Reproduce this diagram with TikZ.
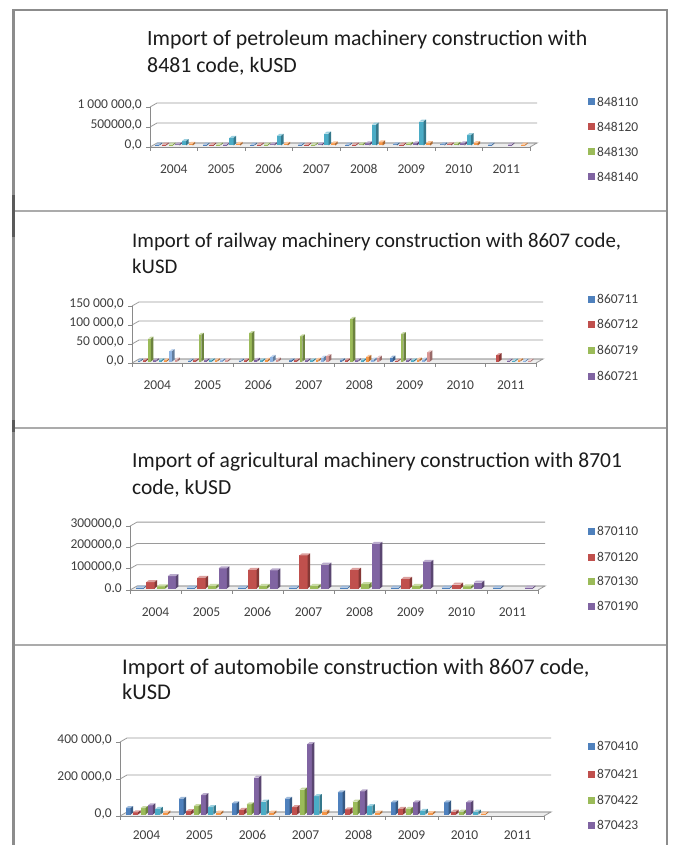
\documentclass[tikz,border=0pt]{standalone}
\usepackage{fontspec}
\setmainfont{Carlito}
\definecolor{sA}{HTML}{4F81BD}
\definecolor{sB}{HTML}{C0504D}
\definecolor{sC}{HTML}{9BBB59}
\definecolor{sD}{HTML}{8064A2}
\definecolor{sE}{HTML}{4BACC6}
\definecolor{sF}{HTML}{F79646}
\definecolor{sG}{HTML}{8EB4E3}
\definecolor{sH}{HTML}{D99694}
\definecolor{frgray}{HTML}{8C8C8C}
\definecolor{frdark}{HTML}{5A5A5A}
\definecolor{sepgray}{HTML}{ABABAB}
\definecolor{gridcol}{HTML}{9A9A9A}
\definecolor{axcol}{HTML}{8A8A8A}
\definecolor{floorcol}{HTML}{EDEDED}
\definecolor{labcol}{HTML}{404040}
\definecolor{ttlcol}{HTML}{1C1C1C}
\tikzset{
  frameline/.style={draw=frgray, line width=2.2pt},
  sepline/.style={draw=sepgray, line width=1.3pt},
  ttl/.style={anchor=west, inner sep=0pt, text=ttlcol},
  ylab/.style={anchor=east, inner sep=0pt, font=\fontsize{13.5}{15}\selectfont, text=labcol},
  xlab/.style={anchor=center, inner sep=0pt, font=\fontsize{13.5}{15}\selectfont, text=labcol},
  leglab/.style={anchor=west, inner sep=0pt, font=\fontsize{13.5}{15}\selectfont, text=labcol},
  gridln/.style={draw=gridcol, line width=0.8pt},
  axisln/.style={draw=axcol, line width=0.8pt},
}
\newcommand\bdx{2.5}
\newcommand\bdy{2}
\newcommand\panelbody{%
  \pgfmathsetmacro\xe{\xo+8*\wc}%
  % floor
  \fill[floorcol] (\xo,\yo) -- (\xe,\yo) -- (\xe+7,\yo-4) -- (\xo+7,\yo-4) -- cycle;
  \draw[gridln] (\xo+7,\yo-4) -- (\xe+7,\yo-4) -- (\xe,\yo);
  % gridlines and y labels
  \foreach \gv/\gl [count=\gi] in \gridlist {
    \pgfmathsetmacro\gy{\yo-\gv*\sc}
    \draw[gridln] (\xo,\gy) -- (\xo+7,\gy-4) -- (\xe+7,\gy-4);
    \draw[axisln] (\xo-4,\gy) -- (\xo,\gy);
    \node[ylab] (\pn y\gi) at (\xo-8,\gy-2) {\gl};
  }
  \draw[axisln] (\xo,\yo) -- (\xo,\yo-\topv*\sc);
  \draw[axisln] (\xo,\yo) -- (\xe,\yo);
  \foreach \k in {0,...,8} { \draw[axisln] (\xo+\k*\wc,\yo) -- (\xo+\k*\wc,\yo+4); }
  % years
  \foreach \yr [count=\ci] in {2004,2005,2006,2007,2008,2009,2010,2011} {
    \node[xlab] (\pn x\ci) at (\xo+\ci*\wc-0.5*\wc,\yo+\yoff) {\yr};
  }
  % bars
  \pgfmathsetmacro\cl{0.84*\wc}%
  \pgfmathsetmacro\slot{\cl/\ns}%
  \pgfmathsetmacro\bw{\slot-\bdx}%
  \pgfmathsetmacro\yb{\yo-1.5}%
  \foreach \col/\vals [count=\si] in \serieslist {
    \foreach \v [count=\ci] in \vals {
      \ifdim \v pt>0pt
        \pgfmathsetmacro\bx{\xo+(\ci-1)*\wc+0.5*\wc-0.5*\cl+(\si-1)*\slot+1.5}
        \pgfmathsetmacro\bh{max(\v*\sc,0.8)}
        \fill[fill=\col] (\bx,\yb) rectangle (\bx+\bw,\yb-\bh);
        \fill[fill=\col!55!white] (\bx,\yb-\bh) -- ++(\bdx,-\bdy) -- ++(\bw,0) -- ++(-\bdx,\bdy) -- cycle;
        \fill[fill=\col!70!black] (\bx+\bw,\yb) -- ++(\bdx,-\bdy) -- ++(0,-\bh) -- ++(-\bdx,\bdy) -- cycle;
      \fi
    }
  }
  % legend
  \foreach \col/\txt/\ly [count=\li] in \legendlist {
    \fill[fill=\col] (588,\ly-3.5) rectangle (595,\ly+3.5);
    \node[leglab] (\pn l\li) at (597,\ly) {\txt};
  }
}
\begin{document}
\begin{tikzpicture}[x=1pt,y=-1pt]
\useasboundingbox (0,0) rectangle (672,845);
\fill[white] (0,0) rectangle (672,845);
% frame
\draw[sepline] (14,211) -- (667,211);
\draw[sepline] (14,428) -- (667,428);
\draw[sepline] (14,645) -- (667,645);
\draw[frameline] (13.5,845) -- (13.5,10) -- (667,10) -- (667,845);
\draw[draw=frdark, line width=2.2pt] (13.5,195) -- (13.5,237);
\draw[draw=frdark, line width=2.2pt] (13.5,420) -- (13.5,432);

% ---------- panel 1
\node[ttl, font=\fontsize{21.8}{26}\selectfont] (p1t1) at (147,40) {Import of petroleum machinery construction with};
\node[ttl, font=\fontsize{21.8}{26}\selectfont] (p1t2) at (147,66) {8481 code, kUSD};
\def\pn{p1}\def\xo{150}\def\wc{47.5}\def\yo{147}\def\sc{0.04}\def\ns{6}\def\topv{1000}\def\yoff{22}
\def\gridlist{0/{0,0},500/{500000,0},1000/{1 000 000,0}}
\def\serieslist{sA/{15,10,10,15,20,25,25,10},sB/{15,10,10,10,10,10,25,0},sC/{20,15,20,20,30,40,40,0},sD/{30,20,30,30,50,50,50,10},sE/{110,190,240,300,520,600,260,0},sF/{40,40,40,50,80,60,60,20}}
\def\legendlist{sA/848110/102,sB/848120/127,sC/848130/152,sD/848140/177}
\panelbody

% ---------- panel 2
\node[ttl, font=\fontsize{20.8}{25}\selectfont] (p2t1) at (132,242) {Import of railway machinery construction with 8607 code,};
\node[ttl, font=\fontsize{20.8}{25}\selectfont] (p2t2) at (132,266) {kUSD};
\def\pn{p2}\def\xo{132}\def\wc{50.5}\def\yo{363}\def\sc{0.38}\def\ns{8}\def\topv{150}\def\yoff{22}
\def\gridlist{0/{0,0},50/{50 000,0},100/{100 000,0},150/{150 000,0}}
\def\serieslist{sA/{2,2,2,3,3,10,0,0},sB/{3,3,3,3,3,2,0,17},sC/{60,70,75,66,112,72,0,0},sD/{3,3,4,3,3,3,0,1},sE/{3,3,3,3,3,3,0,1},sF/{3,3,4,4,12,5,0,3},sG/{27,3,12,10,5,5,0,1},sH/{5,3,5,14,10,24,0,1}}
\def\legendlist{sA/860711/299,sB/860712/324,sC/860719/350,sD/860721/376}
\panelbody

% ---------- panel 3
\node[ttl, font=\fontsize{21.5}{26}\selectfont] (p3t1) at (132,462) {Import of agricultural machinery construction with 8701};
\node[ttl, font=\fontsize{21.5}{26}\selectfont] (p3t2) at (132,488) {code, kUSD};
\def\pn{p3}\def\xo{130}\def\wc{51}\def\yo{590}\def\sc{0.213}\def\ns{4}\def\topv{300}\def\yoff{22}
\def\gridlist{0/{0.0},100/{100000,0},200/{200000,0},300/{300000,0}}
\def\serieslist{sA/{2,2,2,2,2,2,2,2},sB/{30,50,88,155,88,45,18,0},sC/{10,12,12,12,20,12,10,0},sD/{58,95,85,112,210,125,28,3}}
\def\legendlist{sA/870110/531,sB/870120/557,sC/870130/581,sD/870190/606}
\panelbody

% ---------- panel 4
\node[ttl, font=\fontsize{22.5}{27}\selectfont] (p4t1) at (122,668) {Import of automobile construction with 8607 code,};
\node[ttl, font=\fontsize{22.5}{27}\selectfont] (p4t2) at (122,692) {kUSD};
\def\pn{p4}\def\xo{120}\def\wc{53}\def\yo{816}\def\sc{0.185}\def\ns{6}\def\topv{400}\def\yoff{19}
\def\gridlist{0/{0,0},200/{200 000,0},400/{400 000,0}}
\def\serieslist{sA/{35,85,60,85,120,65,65,0},sB/{12,18,25,40,28,30,15,0},sC/{35,45,55,135,70,30,15,0},sD/{50,105,200,380,125,65,65,0},sE/{30,40,70,100,45,20,15,0},sF/{10,10,10,15,10,8,5,0}}
\def\legendlist{sA/870410/746,sB/870421/774,sC/870422/800,sD/870423/825}
\panelbody
\end{tikzpicture}
\end{document}
